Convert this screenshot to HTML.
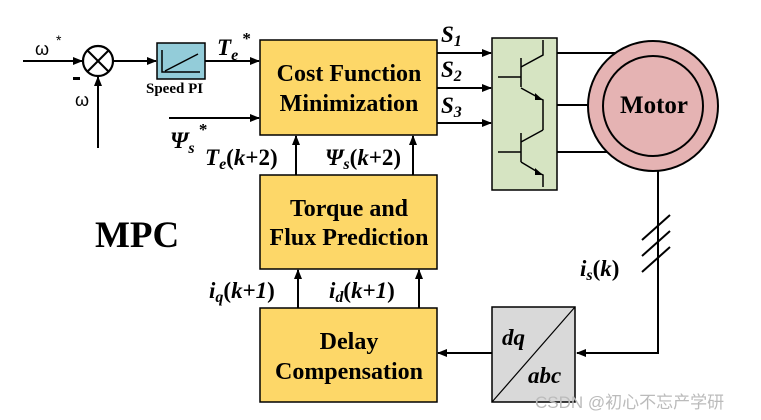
<!DOCTYPE html>
<html><head><meta charset="utf-8"><style>
body{margin:0;background:#fff}
svg{display:block}
text{font-family:"Liberation Serif",serif;font-weight:bold;fill:#000}
</style></head><body>
<svg width="761" height="420" viewBox="0 0 761 420" xmlns="http://www.w3.org/2000/svg">
<defs>
<marker id="a" markerWidth="10" markerHeight="8" refX="9" refY="4" orient="auto" markerUnits="userSpaceOnUse">
<path d="M0,0 L10,4 L0,8 Z" fill="#000"/></marker>
</defs>
<g stroke="#000" stroke-width="2" fill="none">
<line x1="23" y1="61" x2="82" y2="61" marker-end="url(#a)"/>
<circle cx="98" cy="61" r="15" stroke-width="2.2"/>
<line x1="88" y1="51" x2="108" y2="71"/><line x1="108" y1="51" x2="88" y2="71"/>
<line x1="98" y1="148" x2="98" y2="77" marker-end="url(#a)"/>
<line x1="113" y1="61" x2="156" y2="61" marker-end="url(#a)"/>
<line x1="205" y1="61" x2="259" y2="61" marker-end="url(#a)"/>
<line x1="169" y1="118" x2="259" y2="118" marker-end="url(#a)"/>
<line x1="437" y1="53" x2="491" y2="53" marker-end="url(#a)"/>
<line x1="437" y1="88" x2="491" y2="88" marker-end="url(#a)"/>
<line x1="437" y1="123" x2="491" y2="123" marker-end="url(#a)"/>
<line x1="296" y1="175" x2="296" y2="136" marker-end="url(#a)"/>
<line x1="413" y1="175" x2="413" y2="136" marker-end="url(#a)"/>
<line x1="298" y1="308" x2="298" y2="270" marker-end="url(#a)"/>
<line x1="419" y1="308" x2="419" y2="270" marker-end="url(#a)"/>
<line x1="557" y1="53" x2="615" y2="53"/>
<line x1="557" y1="105" x2="590" y2="105"/>
<line x1="557" y1="152" x2="610" y2="152"/>
<polyline points="658,170 658,353 577,353" marker-end="url(#a)"/>
<line x1="492" y1="353" x2="438" y2="353" marker-end="url(#a)"/>
<line x1="642" y1="240" x2="670" y2="215"/>
<line x1="642" y1="256" x2="670" y2="231"/>
<line x1="642" y1="272" x2="670" y2="247"/>
</g>
<rect x="157" y="43" width="48" height="36" fill="#93ccd9" stroke="#000" stroke-width="1.5"/>
<polyline points="162,50 162,72 200,72" fill="none" stroke="#000" stroke-width="1.5"/>
<line x1="165" y1="71" x2="198" y2="54" stroke="#000" stroke-width="1.5"/>
<rect x="260" y="40" width="177" height="95" fill="#fdd768" stroke="#000" stroke-width="1.5"/>
<rect x="260" y="175" width="177" height="94" fill="#fdd768" stroke="#000" stroke-width="1.5"/>
<rect x="260" y="308" width="177" height="94" fill="#fdd768" stroke="#000" stroke-width="1.5"/>
<rect x="492" y="38" width="65" height="152" fill="#d6e4c2" stroke="#000" stroke-width="1.5"/>
<g stroke="#000" stroke-width="1.5" fill="none">
<line x1="521" y1="58" x2="521" y2="87"/><line x1="498" y1="77" x2="521" y2="77"/>
<polyline points="521,67 543,55 543,40"/>
<polyline points="521,88 541,99 543,100 543,130"/>
<line x1="521" y1="133" x2="521" y2="162"/><line x1="498" y1="152" x2="521" y2="152"/>
<polyline points="521,142 543,130"/>
<polyline points="521,162 541,174 543,175 543,187"/>
</g>
<path d="M535,93 L543,100 L535,100 Z" fill="#000"/>
<path d="M535,168 L543,175 L535,175 Z" fill="#000"/>
<circle cx="653" cy="106" r="65" fill="#e5b3b3" stroke="#000" stroke-width="2"/>
<circle cx="653" cy="106" r="50" fill="#e5b3b3" stroke="#000" stroke-width="2"/>
<text x="654" y="113" font-size="25" text-anchor="middle">Motor</text>
<rect x="492" y="307" width="83" height="95" fill="#d9d9d9" stroke="#000" stroke-width="1.5"/>
<line x1="492" y1="402" x2="575" y2="307" stroke="#000" stroke-width="1.2"/>
<text x="502" y="345" font-size="23" font-style="italic">dq</text>
<text x="528" y="383" font-size="23" font-style="italic">abc</text>
<text x="349" y="81" font-size="24" text-anchor="middle">Cost Function</text>
<text x="349" y="111" font-size="24" text-anchor="middle">Minimization</text>
<text x="349" y="216" font-size="24" text-anchor="middle">Torque and</text>
<text x="349" y="245" font-size="24" text-anchor="middle">Flux Prediction</text>
<text x="349" y="349" font-size="24" text-anchor="middle">Delay</text>
<text x="349" y="379" font-size="24" text-anchor="middle">Compensation</text>
<text x="95" y="247" font-size="37">MPC</text>
<text x="146" y="93" font-size="15">Speed PI</text>
<text x="35" y="55" font-size="18" style="font-weight:normal;font-family:'Liberation Sans',sans-serif">ω</text>
<text x="56" y="45" font-size="14" style="font-weight:normal;font-family:'Liberation Sans',sans-serif">*</text>
<rect x="73" y="77" width="7" height="3" fill="#000"/>
<text x="75" y="106" font-size="18" style="font-weight:normal;font-family:'Liberation Sans',sans-serif">ω</text>
<text x="217" y="55" font-size="23" font-style="italic">T<tspan font-size="16" dy="5">e</tspan><tspan font-size="17" dy="-16" font-style="normal"> *</tspan></text>
<text x="170" y="148" font-size="23" font-style="italic">Ψ<tspan font-size="16" dy="5">s</tspan><tspan font-size="17" dy="-18" font-style="normal"> *</tspan></text>
<text x="205" y="165" font-size="23" font-style="italic">T<tspan font-size="16" dy="4">e</tspan><tspan dy="-4" font-style="normal">(</tspan>k<tspan font-style="normal">+2)</tspan></text>
<text x="325" y="165" font-size="23" font-style="italic">Ψ<tspan font-size="16" dy="4">s</tspan><tspan dy="-4" font-style="normal">(</tspan>k<tspan font-style="normal">+2)</tspan></text>
<text x="209" y="298" font-size="23" font-style="italic">i<tspan font-size="16" dy="4">q</tspan><tspan dy="-4" font-style="normal">(</tspan>k<tspan font-style="normal">+</tspan>1<tspan font-style="normal">)</tspan></text>
<text x="329" y="298" font-size="23" font-style="italic">i<tspan font-size="16" dy="4">d</tspan><tspan dy="-4" font-style="normal">(</tspan>k<tspan font-style="normal">+</tspan>1<tspan font-style="normal">)</tspan></text>
<text x="580" y="276" font-size="23" font-style="italic">i<tspan font-size="16" dy="4">s</tspan><tspan dy="-4" font-style="normal">(</tspan>k<tspan font-style="normal">)</tspan></text>
<text x="441" y="42" font-size="23" font-style="italic">S<tspan font-size="16" dy="4">1</tspan></text>
<text x="441" y="77" font-size="23" font-style="italic">S<tspan font-size="16" dy="4">2</tspan></text>
<text x="441" y="113" font-size="23" font-style="italic">S<tspan font-size="16" dy="4">3</tspan></text>
<text x="535" y="408" font-size="17" style="font-weight:normal;font-family:'Liberation Sans','Noto Sans CJK SC',sans-serif;fill:#bbb">CSDN @初心不忘产学研</text>
</svg>
</body></html>
